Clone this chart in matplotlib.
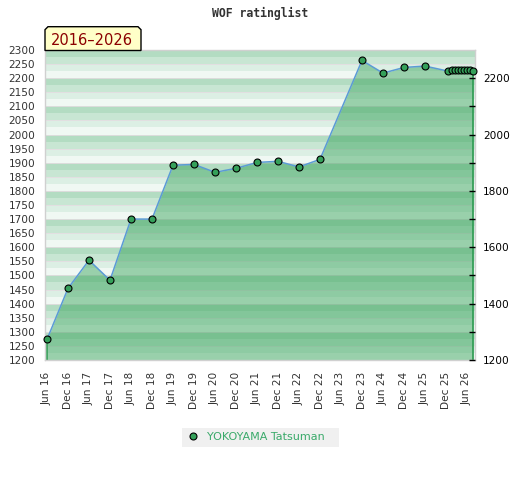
import matplotlib
matplotlib.use('Agg')
import matplotlib.pyplot as plt
from matplotlib.patches import Polygon, Rectangle
from matplotlib.lines import Line2D

# months counted from Jun 2016
months = [0, 6, 12, 18, 24, 30, 36, 42, 48, 54, 60, 66, 72, 78,
          90, 96, 102, 108,
          114.6, 115.7, 116.6, 117.4, 118.3, 119.1, 120.0, 120.9, 121.7]
ratings = [1273, 1454, 1554, 1483, 1700, 1700, 1891, 1894, 1866, 1880, 1901, 1905, 1885, 1912,
           2263, 2218, 2238, 2243,
           2225, 2228, 2228, 2228, 2229, 2229, 2230, 2230, 2227]

tick_months = list(range(0, 121, 6))
tick_labels = ['Jun 16', 'Dec 16', 'Jun 17', 'Dec 17', 'Jun 18', 'Dec 18', 'Jun 19',
               'Dec 19', 'Jun 20', 'Dec 20', 'Jun 21', 'Dec 21', 'Jun 22', 'Dec 22',
               'Jun 23', 'Dec 23', 'Jun 24', 'Dec 24', 'Jun 25', 'Dec 25', 'Jun 26']
left_ticks = list(range(1200, 2301, 50))
right_ticks = list(range(1200, 2201, 200))
right_minor = list(range(1300, 2201, 200))

player = 'YOKOYAMA Tatsuman'
period = '2016\u20132026'
title = 'WOF ratinglist'

W, H = 520, 480


def px(x, y):
    # pixel position -> figure fraction
    return x / W, 1 - y / H


fig = plt.figure(figsize=(W / 100, H / 100), dpi=100, facecolor='white')
ax = fig.add_axes([45 / W, (H - 360) / H, 430 / W, 310 / H])

# striped background, four stripes per 100 points, dark at top
stripe_colors = ['#b3dcc2', '#c8e6d3', '#dcefe4', '#f0f8f3']
for base in range(1200, 2300, 100):
    for i, c in enumerate(stripe_colors):
        top = base + 100 - 25 * i
        ax.axhspan(top - 25, top, color=c, lw=0, zorder=0)
for v in left_ticks[1:-1]:
    ax.axhline(v, color='#e4dde1', lw=0.6, zorder=0.5)

ax.fill_between(months, ratings, 1200, color='#33a157', alpha=0.46, lw=0, zorder=1)
ax.vlines([months[0], months[-1]], 1200, [ratings[0], ratings[-1]], color='#2e9b52', lw=1.2, zorder=2)
ax.plot(months, ratings, color='#5b9bd5', lw=1.1, zorder=3)
ax.plot(months, ratings, ls='none', marker='o', ms=5, mfc='#35a05a', mec='black', mew=0.8, zorder=4,
        clip_on=False)

ax.set_xlim(-0.571, 122.29)
ax.set_ylim(1200, 2300)
ax.set_yticks(left_ticks)
ax.tick_params(axis='y', length=0, pad=7, labelsize=7.6, labelcolor='#333333')
ax.set_xticks(tick_months)
ax.set_xticklabels(tick_labels, rotation=90)
ax.tick_params(axis='x', length=0, pad=8.5, labelsize=7.6, labelcolor='#333333')
for s in ax.spines.values():
    s.set_color('#d0d0d0')
    s.set_linewidth(1)

ax2 = ax.twinx()
ax2.set_ylim(1200, 2300)
ax2.set_yticks(right_ticks)
ax2.set_yticks(right_minor, minor=True)
ax2.tick_params(axis='y', which='both', direction='in', length=4, width=1, pad=6,
                labelsize=7.6, labelcolor='black', color='black')
for s in ax2.spines.values():
    s.set_visible(False)

# title
fig.text(*px(260.5, 13.5), title, ha='center', va='center', family='DejaVu Sans Mono',
         fontweight='bold', fontsize=8.3, color='#333333')

# period tab above the plot
x0, x1, y0, y1, c = 45, 141, 26.7, 50.5, 3
tab = Polygon([px(x0, y1), px(x0, y0 + c), px(x0 + c, y0), px(x1 - c, y0), px(x1, y0 + c), px(x1, y1)],
              closed=True, transform=fig.transFigure, facecolor='#ffffc8', edgecolor='black', lw=1)
fig.patches.append(tab)
fig.text(*px(91.7, 40.5), period, ha='center', va='center', fontsize=10.5, color='#8b0000')

# legend
lx0, ly0, lx1, ly1 = 182, 428, 339, 447
fig.patches.append(Rectangle(px(lx0, ly1), (lx1 - lx0) / W, (ly1 - ly0) / H,
                             transform=fig.transFigure, facecolor='#f0f0f0', edgecolor='none'))
fig.lines.append(Line2D([193 / W], [1 - 435.5 / H], transform=fig.transFigure, marker='o', ms=5,
                        mfc='#35a05a', mec='black', mew=0.8, ls='none'))
fig.text(*px(207, 436.5), player, ha='left', va='center', fontsize=8, color='#3aaa6a')

fig.savefig('out.png', dpi=100, facecolor='white')
